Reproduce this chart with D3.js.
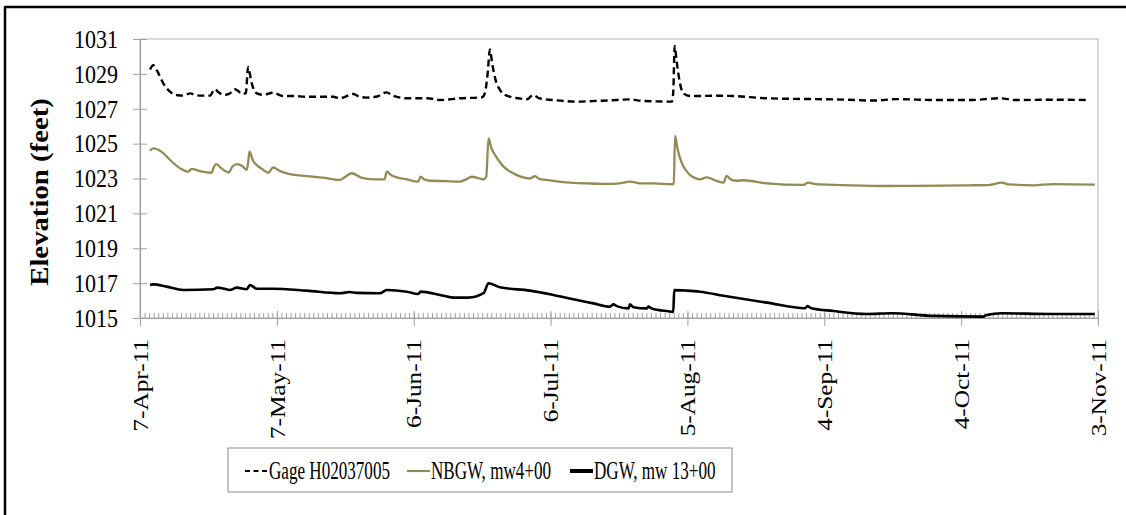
<!DOCTYPE html>
<html><head><meta charset="utf-8">
<script src="https://cdn.jsdelivr.net/npm/d3@7"></script>
<style>
html,body{margin:0;padding:0;background:#fff;}
svg{display:block;font-family:"Liberation Serif","Times New Roman",serif;}
</style></head>
<body>
<svg id="chart" width="1126" height="515"></svg>
<script>
// ---------------- data ----------------
const startDate = "7-Apr-11";
const endDate = "3-Nov-11";
const xTickLabels = ["7-Apr-11","7-May-11","6-Jun-11","6-Jul-11","5-Aug-11","4-Sep-11","4-Oct-11","3-Nov-11"];
const yTickValues = [1015,1017,1019,1021,1023,1025,1027,1029,1031];
const seriesNames = ["Gage H02037005","NBGW, mw4+00","DGW, mw 13+00"];

// day offsets from 7-Apr-11 and elevations (feet)
const gageDays = [2.2,2.9,3.7,5.1,6.5,8.0,9.5,11.0,12.0,13.5,15.3,16.4,17.2,18.3,19.5,20.8,21.6,22.3,23.2,23.7,24.0,24.5,25.6,27.0,29.2,30.5,31.4,33.6,36.5,40.0,42.4,43.8,46.8,48.0,49.7,52.0,54.0,55.5,58.5,61.4,63.0,65.8,70.0,75.0,75.6,76.2,76.7,77.2,77.9,78.9,80.0,81.1,83.0,84.8,86.2,87.5,90.6,95.7,100.0,104.5,107.4,110.0,116.6,116.9,117.2,117.6,118.0,118.6,119.1,120.6,122.75,126,130,137.4,148.3,155,160.7,165.9,173.9,182,188.5,192,200,207.5];
const gageValues = [1029.25,1029.5,1029.2,1028.46,1028.0,1027.79,1027.75,1027.88,1027.8,1027.75,1027.75,1028.12,1027.95,1027.79,1027.85,1028.12,1028.0,1027.85,1027.9,1029.4,1029.1,1028.46,1027.88,1027.8,1027.92,1027.8,1027.73,1027.73,1027.69,1027.69,1027.69,1027.6,1027.85,1027.7,1027.64,1027.7,1027.94,1027.75,1027.6,1027.6,1027.6,1027.5,1027.6,1027.66,1027.9,1029.0,1030.4,1029.6,1028.7,1028.08,1027.8,1027.69,1027.6,1027.54,1027.79,1027.6,1027.5,1027.41,1027.45,1027.5,1027.54,1027.45,1027.41,1028.0,1030.6,1029.8,1029.03,1028.2,1027.88,1027.73,1027.73,1027.75,1027.73,1027.6,1027.55,1027.52,1027.47,1027.55,1027.5,1027.5,1027.6,1027.5,1027.52,1027.5];

const nbgwDays = [2.2,2.9,4.7,6.6,8.8,10.6,11.3,13.2,15.7,16.1,16.7,18.0,19.4,20.3,21.2,22.5,23.4,23.7,24.0,24.8,25.6,27.0,28.1,29.2,30.5,32.2,36.5,40.0,43.8,45.0,46.4,48.5,51.1,53.6,54.1,55.0,56.3,58.5,61.0,61.5,62.3,63.6,67.0,70.1,71.5,72.7,74.5,75.3,75.9,76.4,77.0,77.6,78.2,79.0,79.8,81.1,82.2,83.3,85.5,86.6,87.5,89.1,94.3,98.0,102.3,105.0,107.4,110.0,112.5,116.6,117.0,117.3,117.8,118.4,119.1,119.8,120.6,121.5,122.75,124.2,126.5,127.9,128.6,129.5,130.8,132.3,137.4,145.4,146.5,148.0,155.6,164.4,170.0,181.2,186.0,188.9,190.5,195.8,200.2,209.3];
const nbgwValues = [1024.6,1024.73,1024.54,1024.06,1023.58,1023.39,1023.55,1023.42,1023.33,1023.6,1023.83,1023.55,1023.35,1023.7,1023.83,1023.7,1023.5,1023.9,1024.54,1024.0,1023.77,1023.5,1023.33,1023.64,1023.45,1023.3,1023.14,1023.05,1022.92,1023.1,1023.3,1023.05,1022.95,1022.95,1023.39,1023.2,1023.07,1022.95,1022.82,1023.1,1022.95,1022.87,1022.85,1022.82,1022.95,1023.1,1023.0,1022.95,1023.1,1025.3,1024.75,1024.45,1024.2,1023.9,1023.65,1023.4,1023.25,1023.12,1023.0,1023.14,1022.98,1022.92,1022.76,1022.72,1022.69,1022.72,1022.82,1022.72,1022.72,1022.67,1022.7,1025.44,1024.75,1024.15,1023.7,1023.42,1023.2,1023.05,1022.95,1023.06,1022.85,1022.76,1023.15,1022.95,1022.87,1022.9,1022.72,1022.63,1022.76,1022.68,1022.61,1022.57,1022.58,1022.61,1022.62,1022.76,1022.66,1022.61,1022.68,1022.65];

const dgwDays = [2.2,2.9,5.8,9.5,16.1,17.0,18.5,19.7,21.2,23.4,24.1,25.6,29.2,36.5,43.8,46.0,47.5,52.6,54.1,58.5,61.0,61.5,65.8,68.7,72.0,75.3,76.4,78.9,85.5,90.6,95.0,99.4,103.0,103.8,104.5,107.1,107.4,108.2,111.1,111.4,112.2,116.5,116.9,117.1,119.8,122.75,127.9,137.4,145.8,146.3,147.0,152.0,159.3,164.8,173.9,184.9,185.6,188.9,199.5,209.3];
const dgwValues = [1016.9,1016.93,1016.8,1016.61,1016.65,1016.74,1016.68,1016.61,1016.74,1016.65,1016.89,1016.68,1016.68,1016.57,1016.42,1016.49,1016.44,1016.42,1016.61,1016.51,1016.38,1016.51,1016.32,1016.17,1016.17,1016.42,1016.99,1016.76,1016.57,1016.32,1016.07,1015.84,1015.65,1015.78,1015.68,1015.55,1015.78,1015.62,1015.55,1015.65,1015.55,1015.36,1015.34,1016.6,1016.57,1016.51,1016.28,1015.88,1015.56,1015.69,1015.58,1015.4,1015.23,1015.27,1015.12,1015.08,1015.17,1015.27,1015.23,1015.23];

// ---------------- drawing ----------------
const parse = d3.utcParse("%d-%b-%y");
const t0 = parse(startDate), t1 = parse(endDate);
const dayToDate = d => new Date(t0.getTime() + d * 864e5);
const mk = (days, vals) => days.map((d, i) => ({date: dayToDate(d), v: vals[i]}));

const svg = d3.select("#chart");
const L = 140, R = 1098, T = 39, B = 318;
const x = d3.scaleUtc().domain([t0, t1]).range([L, R]);
const y = d3.scaleLinear().domain([1015, 1031]).range([B, T]);
const SY = 1.15; // glyph stretch of the reference

// outer frame
svg.append("line").attr("x1", 5).attr("x2", 1126).attr("y1", 7).attr("y2", 7).attr("stroke", "#000").attr("stroke-width", 2.5);
svg.append("line").attr("x1", 5).attr("x2", 5).attr("y1", 6).attr("y2", 515).attr("stroke", "#000").attr("stroke-width", 2.5);

// plot border
svg.append("rect").attr("x", L).attr("y", T).attr("width", R - L).attr("height", B - T)
  .attr("fill", "none").attr("stroke", "#c0c0c0").attr("stroke-width", 1.2);

// minor x ticks (daily, inside)
const minor = svg.append("g").attr("transform", `translate(0,${B})`)
  .call(d3.axisBottom(x).ticks(d3.utcDay.every(1)).tickSize(-5).tickFormat(""));
minor.select(".domain").remove();
minor.selectAll(".tick line").attr("stroke", "#a0a0a0");

// major x axis
const tickDates = xTickLabels.map(s => parse(s));
const xa = svg.append("g").attr("transform", `translate(0,${B})`)
  .call(d3.axisBottom(x).tickValues(tickDates).tickFormat((d, i) => xTickLabels[i]).tickSizeOuter(0));
xa.select(".domain").attr("stroke", "#a0a0a0").attr("stroke-width", 1.2);
xa.selectAll(".tick line").attr("y1", -7).attr("y2", 8).attr("stroke", "#a0a0a0");
xa.selectAll(".tick text")
  .attr("font-family", "Liberation Serif").attr("font-size", 22).attr("fill", "#000")
  .attr("text-anchor", "end").attr("x", 0).attr("y", 0).attr("dy", "0.33em")
  .attr("transform", `translate(0,21) rotate(-90) scale(${SY},1)`);

// y axis
const ya = svg.append("g").attr("transform", `translate(${L},0)`)
  .call(d3.axisLeft(y).tickValues(yTickValues).tickFormat(d3.format("d")).tickSizeOuter(0));
ya.select(".domain").attr("stroke", "#a0a0a0").attr("stroke-width", 1.2);
ya.selectAll(".tick line").attr("x1", -7).attr("x2", 7).attr("stroke", "#a0a0a0");
ya.selectAll(".tick text")
  .attr("font-family", "Liberation Serif").attr("font-size", 22).attr("fill", "#000")
  .attr("x", 0).attr("dy", "0.33em").attr("text-anchor", "end")
  .attr("transform", `translate(-22,0) scale(1,${SY})`);

// y title
svg.append("text").attr("transform", `translate(48,192) rotate(-90) scale(${SY},1)`)
  .attr("text-anchor", "middle").attr("font-size", 25).attr("font-weight", "bold")
  .text("Elevation (feet)");

// lines
const line = d3.line().x(d => x(d.date)).y(d => y(d.v)).curve(d3.curveMonotoneX);
const styles = [
  {data: mk(gageDays, gageValues), color: "#000", width: 2.4, dash: "7,4"},
  {data: mk(nbgwDays, nbgwValues), color: "#948A54", width: 2.3, dash: null},
  {data: mk(dgwDays, dgwValues), color: "#000", width: 2.6, dash: null}
];
styles.forEach(s => {
  svg.append("path").datum(s.data).attr("d", line).attr("fill", "none")
    .attr("stroke", s.color).attr("stroke-width", s.width)
    .attr("stroke-linejoin", "round")
    .attr("stroke-dasharray", s.dash);
});

// legend
const lg = svg.append("g");
lg.append("rect").attr("x", 228).attr("y", 448).attr("width", 504).attr("height", 44)
  .attr("fill", "#fff").attr("stroke", "#8c8c8c").attr("stroke-width", 1);
const legX = [245, 407, 570];
const legDash = ["5,3.5", null, null];
const legW = [2, 2.2, 4];
seriesNames.forEach((n, i) => {
  lg.append("line").attr("x1", legX[i]).attr("x2", legX[i] + 23).attr("y1", 471).attr("y2", 471)
    .attr("stroke", styles[i].color).attr("stroke-width", legW[i]).attr("stroke-dasharray", legDash[i]);
  lg.append("text").attr("transform", `translate(${legX[i] + 24},471) scale(0.855,1.22)`)
    .attr("dy", "0.33em").attr("font-size", 20).text(n);
});
</script>
</body></html>
